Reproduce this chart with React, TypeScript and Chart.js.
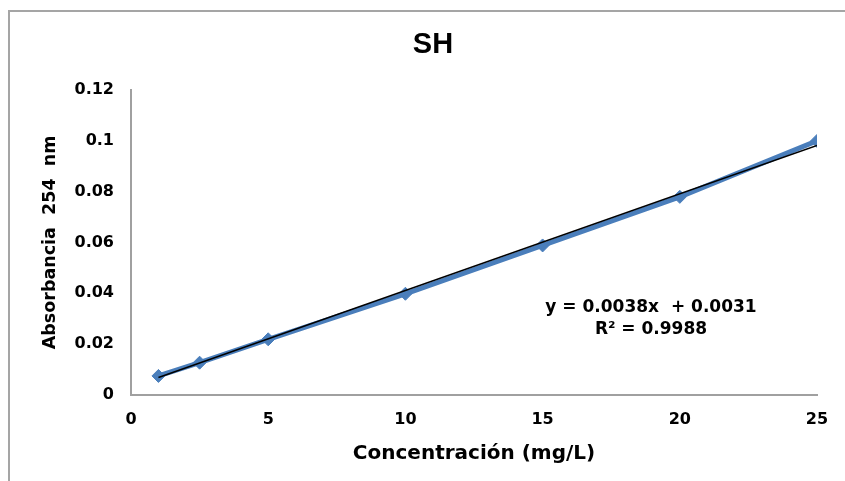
import React, { useEffect, useRef } from "react";
import { Chart, registerables } from "chart.js";

Chart.register(...registerables);

// ---- Data ----
const CONCENTRATIONS = [1, 2.5, 5, 10, 15, 20, 25];
const ABSORBANCE = [0.0075, 0.0127, 0.0219, 0.0398, 0.0588, 0.0779, 0.0999];

const TREND_SLOPE = 0.0038;
const TREND_INTERCEPT = 0.0031;
const TREND_X = [1, 25];

const X_TICK_LABELS = ["0", "5", "10", "15", "20", "25"];
const Y_TICK_LABELS = ["0", "0.02", "0.04", "0.06", "0.08", "0.1", "0.12"];

const TITLE = "SH";
const X_TITLE = "Concentración (mg/L)";
const Y_TITLE = "Absorbancia  254  nm";
const EQUATION_LINES = ["y = 0.0038x  + 0.0031", "R² = 0.9988"];
const EQUATION_ANCHOR = { x: 18.95, y: 0.0343 };

const TICK_FONT = { family: "'DejaVu Sans'", size: 16, weight: "bold" as const };

const equationPlugin = {
  id: "equationText",
  afterDatasetsDraw(chart: any) {
    const { ctx, scales } = chart;
    const cx = scales.x.getPixelForValue(EQUATION_ANCHOR.x);
    const cy = scales.y.getPixelForValue(EQUATION_ANCHOR.y);
    ctx.save();
    ctx.font = "bold 17px 'DejaVu Sans'";
    ctx.fillStyle = "#000";
    ctx.textAlign = "center";
    ctx.textBaseline = "middle";
    EQUATION_LINES.forEach((line, i) => {
      ctx.fillText(line, cx, cy + i * 21.5);
    });
    ctx.restore();
  },
};

const framePlugin = {
  id: "outerFrame",
  beforeDraw(chart: any) {
    const { ctx, width, height } = chart;
    ctx.save();
    ctx.strokeStyle = "#a5a5a5";
    ctx.lineWidth = 2;
    ctx.beginPath();
    ctx.moveTo(9, height);
    ctx.lineTo(9, 11);
    ctx.lineTo(width, 11);
    ctx.stroke();
    ctx.restore();
  },
};

export default function App() {
  const canvasRef = useRef<HTMLCanvasElement | null>(null);

  useEffect(() => {
    if (!canvasRef.current) return;
    const trendData = TREND_X.map((x) => ({ x, y: TREND_SLOPE * x + TREND_INTERCEPT }));
    const chart = new Chart(canvasRef.current, {
      type: "scatter",
      data: {
        datasets: [
          {
            label: "Tendencia",
            data: trendData,
            showLine: true,
            borderColor: "#000000",
            borderWidth: 1.5,
            pointRadius: 0,
            order: 0,
          },
          {
            label: "SH",
            data: CONCENTRATIONS.map((x, i) => ({ x, y: ABSORBANCE[i] })),
            showLine: true,
            borderColor: "#4a7ebb",
            backgroundColor: "#4a7ebb",
            borderWidth: 5,
            pointStyle: "rectRot",
            pointRadius: 6.5,
            pointBorderWidth: 1,
            pointBorderColor: "#4a7ebb",
            pointBackgroundColor: "#4a7ebb",
            order: 1,
          },
        ],
      },
      options: {
        responsive: false,
        animation: false,
        layout: { padding: { left: 30, right: 9, top: 0, bottom: 0 } },
        plugins: {
          legend: { display: false },
          tooltip: { enabled: false },
          title: {
            display: true,
            text: TITLE,
            color: "#000",
            font: { family: "'Liberation Sans'", size: 29, weight: "bold" },
            padding: { top: 28, bottom: 27 },
          },
        },
        scales: {
          x: {
            type: "linear",
            min: 0,
            max: 25,
            grid: { display: false, drawTicks: false },
            border: { display: true, color: "#a0a0a0", width: 2 },
            ticks: {
              stepSize: 5,
              color: "#000",
              font: TICK_FONT,
              padding: 15,
              callback: (_v: any, i: number) => X_TICK_LABELS[i],
            },
            title: {
              display: true,
              text: X_TITLE,
              color: "#000",
              font: { family: "'DejaVu Sans'", size: 20, weight: "bold" },
              padding: { top: 0, bottom: 15 },
            },
            afterFit: (scale: any) => {
              scale.height = 86;
            },
          },
          y: {
            type: "linear",
            min: 0,
            max: 0.12,
            grid: { display: false, drawTicks: false },
            border: { display: true, color: "#a0a0a0", width: 2 },
            ticks: {
              stepSize: 0.02,
              color: "#000",
              font: TICK_FONT,
              padding: 17,
              callback: (_v: any, i: number) => Y_TICK_LABELS[i],
            },
            title: {
              display: true,
              text: Y_TITLE,
              color: "#000",
              font: { family: "'DejaVu Sans'", size: 17.5, weight: "bold" },
              padding: { top: 10, bottom: 0 },
            },
            afterFit: (scale: any) => {
              scale.width = 101;
            },
          },
          ySpacer: {
            type: "linear",
            position: "right",
            display: true,
            grid: { display: false, drawTicks: false },
            border: { display: false },
            ticks: { display: false },
            afterFit: (scale: any) => {
              scale.width = 19;
            },
          },
        },
      },
      plugins: [framePlugin, equationPlugin],
    });
    return () => chart.destroy();
  }, []);

  return (
    <div
      style={{
        position: "fixed",
        left: 0,
        top: 0,
        width: 845,
        height: 481,
        overflow: "hidden",
        background: "#fff",
      }}
    >
      <canvas
        ref={canvasRef}
        width={845}
        height={481}
        style={{ position: "absolute", left: 0, top: 0, width: 845, height: 481 }}
      />
    </div>
  );
}
